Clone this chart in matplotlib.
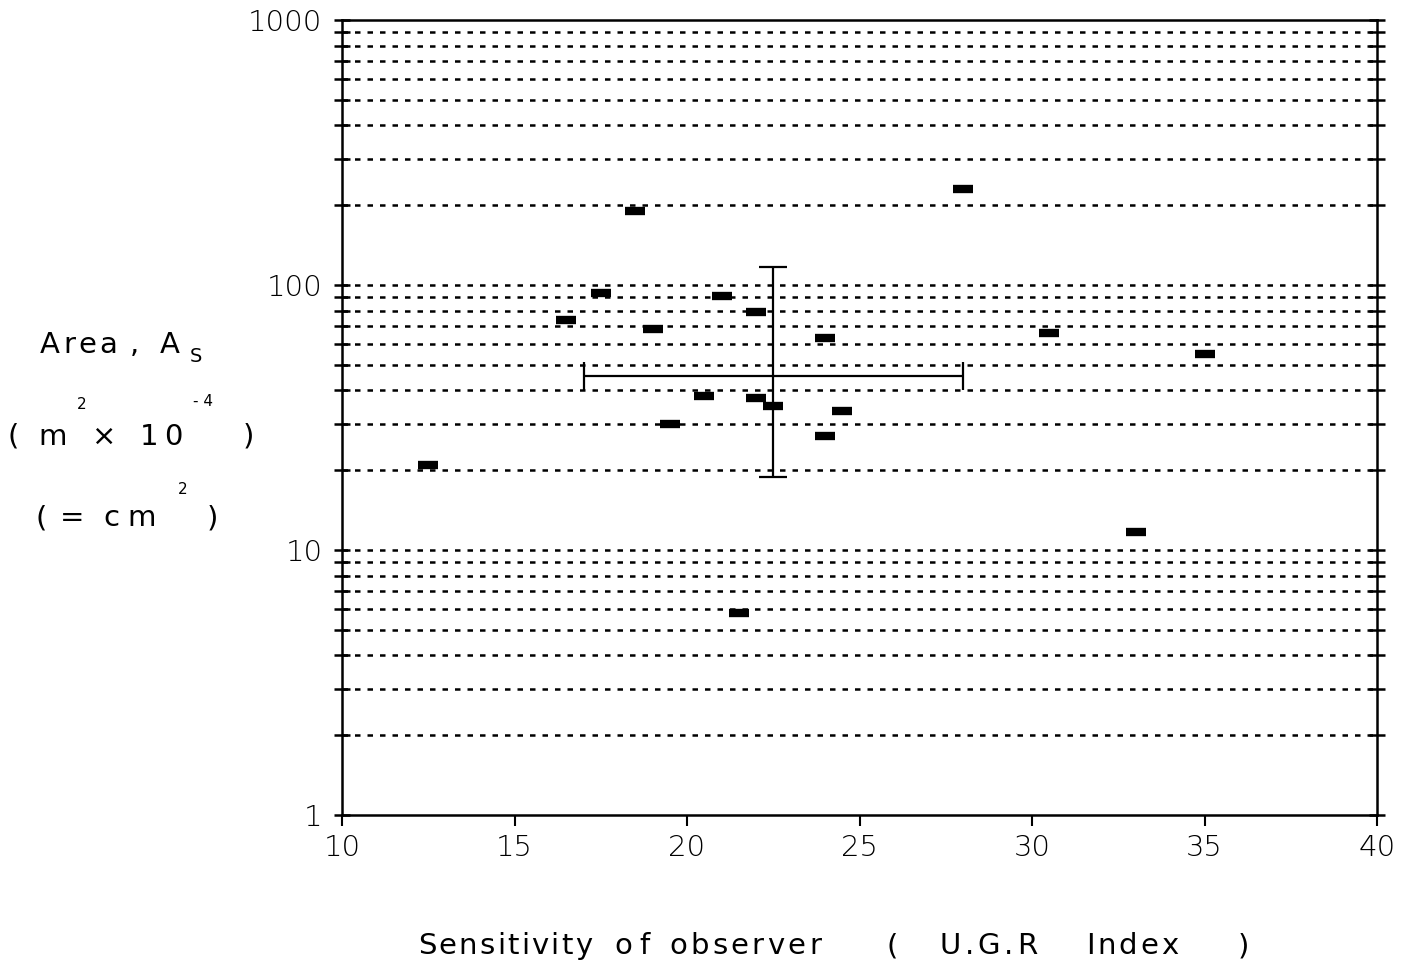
import matplotlib
matplotlib.use("Agg")
import matplotlib.pyplot as plt
from matplotlib.ticker import FixedLocator, NullFormatter, FixedFormatter

# Data
ugr = [12.5, 16.5, 17.5, 18.5, 19.0, 19.5, 20.5, 21.0, 21.5, 22.0, 22.0, 22.5,
       24.0, 24.0, 24.5, 28.0, 30.5, 33.0, 35.0]
area = [21, 74, 93, 190, 68, 30, 38, 91, 5.8, 79, 37.5, 35,
        63, 27, 33.5, 230, 66, 11.7, 55]

mean_x = 22.5
mean_y = 45.5
x_range = (17.0, 28.0)
y_range = (18.8, 117.0)

x_ticks = [10, 15, 20, 25, 30, 35, 40]
y_major = [1, 10, 100, 1000]
y_labels = ["1", "10", "100", "1000"]

W, H = 1413, 969
fig = plt.figure(figsize=(W / 100, H / 100), dpi=100)
ax = fig.add_axes([342 / W, 1 - 815 / H, (1377 - 342) / W, (815 - 20) / H])
ax.set_yscale("log")
ax.set_xlim(10, 40)
ax.set_ylim(1, 1000)

grid_vals = []
for dec in [1, 10, 100]:
    for m in range(1, 10):
        v = dec * m
        if v > 1:
            grid_vals.append(v)
for v in grid_vals:
    ax.axhline(v, color="black", lw=1.8, ls=(0, (2.2, 2.8)), zorder=1)

ax.scatter(ugr, area, marker="_", s=15 ** 2, linewidths=6, color="black", zorder=3)

ax.errorbar([mean_x], [mean_y],
            xerr=[[mean_x - x_range[0]], [x_range[1] - mean_x]],
            yerr=[[mean_y - y_range[0]], [y_range[1] - mean_y]],
            fmt="none", ecolor="black", elinewidth=1.6, capsize=10, capthick=1.6, zorder=2)

for s in ax.spines.values():
    s.set_linewidth(1.8)
    s.set_color("black")

ax.set_xticks(x_ticks)
ax.set_xticklabels([str(t) for t in x_ticks])
ax.yaxis.set_major_locator(FixedLocator(y_major))
ax.yaxis.set_major_formatter(FixedFormatter(y_labels))
ax.yaxis.set_minor_locator(FixedLocator([v for v in grid_vals if v not in y_major]))
ax.yaxis.set_minor_formatter(NullFormatter())
ax.tick_params(axis="y", which="both", direction="inout", length=12, width=1.8,
               right=True, labelsize=21, pad=8)
ax.tick_params(axis="x", which="major", direction="out", length=8, width=1.5,
               labelsize=21, pad=6)
for lab in ax.get_xticklabels() + ax.get_yticklabels():
    lab.set_fontweight("light")

renderer = fig.canvas.get_renderer()


def spread(text, x0, x1, ypix, size):
    """Place characters of `text` so that they span pixels x0..x1."""
    chars = list(text)
    widths = []
    for c in chars:
        t = fig.text(0, 0, c, fontsize=size)
        widths.append(t.get_window_extent(renderer).width)
        t.remove()
    total = sum(widths)
    gap = (x1 - x0 - total) / max(len(chars) - 1, 1)
    x = x0
    for c, w in zip(chars, widths):
        fig.text(x / W, 1 - ypix / H, c, fontsize=size, va="center", ha="left")
        x += w + gap


def put(text, x, ypix, size):
    fig.text(x / W, 1 - ypix / H, text, fontsize=size, va="center", ha="left")


# y-axis label block
fs = 21
spread("Area", 40, 117, 345, fs)
put(",", 130, 345, fs)
put("A", 160, 345, fs)
put("S", 190, 356, 14)
put("(", 8, 437, fs)
put("m", 38, 437, fs)
put("2", 77, 405, 11)
put("\u00d7", 92, 437, fs)
spread("10", 140, 182, 437, fs)
put("- 4", 193, 402, 11)
put(")", 243, 437, fs)
put("(", 35, 518, fs)
put("=", 60, 518, fs)
put("c", 103, 518, fs)
put("m", 127, 518, fs)
put("2", 178, 489, 11)
put(")", 207, 518, fs)

# x-axis label
xs = 21
ylab = 946
spread("Sensitivity", 418, 592, ylab, xs)
spread("of", 614, 650, ylab, xs)
spread("observer", 669, 821, ylab, xs)
put("(", 886, ylab, xs)
spread("U.G.R", 940, 1037, ylab, xs)
spread("Index", 1086, 1178, ylab, xs)
put(")", 1238, ylab, xs)

fig.savefig("out.png", dpi=100)
